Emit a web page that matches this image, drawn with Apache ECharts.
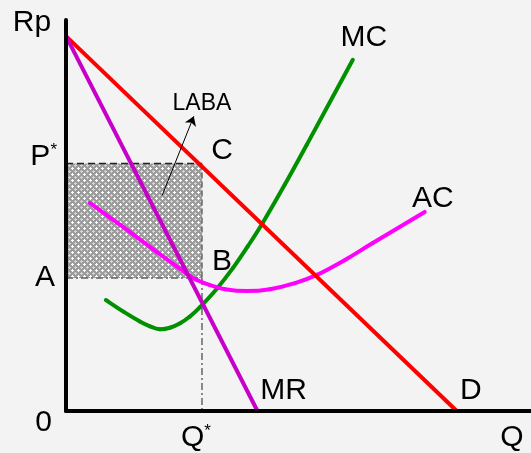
<!DOCTYPE html>
<html>
<head>
<meta charset="utf-8">
<script src="https://cdn.jsdelivr.net/npm/echarts@6/dist/echarts.min.js"></script>
<style>
html,body{margin:0;padding:0;background:#f3f3f3;}
#main{width:531px;height:453px;}
</style>
</head>
<body>
<div id="main"></div>
<script>
// axis extents (Q and Rp units)
var qMax = 11.9;
var pMax = 10.43;

// demand (D) and marginal revenue (MR)
var demandQ = [0, 10];
var demandP = [10, 0];
var mrQ = [0, 4.9];
var mrP = [10, 0];

// cost curves
var mcQ = [1.02, 1.47, 1.89, 2.15, 2.4, 2.66, 2.92, 3.17, 3.43, 3.86, 4.27, 4.65, 5.04, 5.6, 6.16, 7.34];
var mcP = [2.96, 2.65, 2.39, 2.26, 2.18, 2.22, 2.34, 2.52, 2.77, 3.26, 3.81, 4.39, 5.03, 6.04, 7.1, 9.37];
var acQ = [0.61, 1.46, 2.33, 2.92, 3.3, 3.68, 4.07, 4.63, 5.22, 5.86, 6.42, 7.14, 7.85, 9.18];
var acP = [5.55, 4.91, 4.24, 3.79, 3.52, 3.36, 3.25, 3.2, 3.25, 3.41, 3.63, 4.03, 4.48, 5.31];

// equilibrium
var qStar = 3.48;
var pStar = 6.6;
var aLevel = 3.55;

// tick labels
var yTickValues = [0, aLevel, pStar];
var yTickLabels = ['0', 'A', 'P*'];
var xTickValues = [qStar];
var xTickLabels = ['Q*'];

// LABA arrow (tail -> head) and its caption
var arrowQ = [2.46, 3.27];
var arrowP = [5.75, 7.86];
var labaQ = 3.48, labaP = 8.22;

function pairs(xs, ys) {
	var out = [];
	for (var i = 0; i < xs.length; i++) out.push([xs[i], ys[i]]);
	return out;
}

// crosshatch tile for the profit box
function hatch() {
	var c = document.createElement('canvas');
	c.width = 6; c.height = 6;
	var g = c.getContext('2d');
	g.fillStyle = '#9c9c9c';
	g.fillRect(0, 0, 6, 6);
	g.fillStyle = '#ffffff';
	g.fillRect(0, 0, 2, 1);
	g.fillRect(5, 0, 1, 1);
	g.fillRect(0, 1, 1, 1);
	g.fillRect(0, 5, 1, 1);
	g.fillStyle = '#d4d4d4';
	g.fillRect(2, 3, 3, 1);
	g.fillRect(3, 2, 1, 1);
	g.fillRect(3, 4, 1, 1);
	return c;
}

var FONT = 'Liberation Sans';
var big = { fontSize: 30, fontFamily: FONT, color: '#000' };

function tickRich(label) {
	if (label == 'P*') return '{p|P}{s|*}';
	if (label == 'A') return '{a|A}';
	if (label == 'Q*') return '{q|Q}{s|*}';
	return '{z|' + label + '}';
}
function pick(values, labels, v) {
	var best = 0;
	for (var i = 1; i < values.length; i++) {
		if (Math.abs(values[i] - v) < Math.abs(values[best] - v)) best = i;
	}
	return tickRich(labels[best]);
}

function note(text, coord, offset, size) {
	return {
		coord: coord,
		symbolSize: 0,
		label: {
			show: true, position: 'inside', formatter: text, offset: offset,
			fontSize: size || 30, fontFamily: FONT, color: '#000'
		}
	};
}

function guide(name, pts, color, dash) {
	return {
		name: name, type: 'line', data: pts, symbol: 'none', z: 1, silent: true,
		lineStyle: { color: color, width: 1.5, type: dash }
	};
}

// smooth cost curve: each data point draws the spline piece to the next one
function curve(name, qs, ps, color) {
	return {
		name: name, type: 'custom', z: 3, silent: true,
		data: pairs(qs, ps),
		encode: { x: 0, y: 1 },
		renderItem: function (params, api) {
			var i = params.dataIndex, n = qs.length;
			if (i >= n - 1) return { type: 'group', children: [] };
			var at = function (k) {
				k = Math.max(0, Math.min(n - 1, k));
				return api.coord([qs[k], ps[k]]);
			};
			var p0 = at(i - 1), p1 = at(i), p2 = at(i + 1), p3 = at(i + 2);
			var c1 = [p1[0] + (p2[0] - p0[0]) / 6, p1[1] + (p2[1] - p0[1]) / 6];
			var c2 = [p2[0] - (p3[0] - p1[0]) / 6, p2[1] - (p3[1] - p1[1]) / 6];
			return {
				type: 'path',
				shape: { pathData: 'M' + p1.join(' ') + ' C' + c1.join(' ') + ' ' + c2.join(' ') + ' ' + p2.join(' ') },
				style: { fill: 'none', stroke: color, lineWidth: 4, lineCap: 'round' }
			};
		}
	};
}

var myChart = echarts.init(document.getElementById('main'));
var option = {
	backgroundColor: '#f3f3f3',
	animation: false,
	grid: { left: 66, right: 0, top: 20, bottom: 42, containLabel: false, outerBoundsMode: 'none' },
	xAxis: {
		type: 'value', min: 0, max: qMax, z: 10,
		splitLine: { show: false },
		axisTick: { show: false },
		axisLine: { lineStyle: { color: '#000', width: 4 } },
		axisLabel: {
			customValues: xTickValues, margin: 12, padding: [0, 12, 0, 0],
			formatter: function (v) { return pick(xTickValues, xTickLabels, v); },
			rich: {
				q: big,
				s: { fontSize: 17, fontFamily: FONT, color: '#000', verticalAlign: 'top' }
			}
		}
	},
	yAxis: {
		type: 'value', min: 0, max: pMax, z: 10,
		splitLine: { show: false },
		axisTick: { show: false },
		axisLine: { lineStyle: { color: '#000', width: 4 } },
		name: 'Rp', nameLocation: 'end', nameGap: -18, nameMoveOverlap: false,
		nameTextStyle: { fontSize: 30, fontFamily: FONT, color: '#000', padding: [0, 68, 0, 0] },
		axisLabel: {
			customValues: yTickValues, margin: 9,
			formatter: function (v) { return pick(yTickValues, yTickLabels, v); },
			rich: {
				p: { fontSize: 30, fontFamily: FONT, color: '#000', padding: [0, 0, 14, 0] },
				s: { fontSize: 17, fontFamily: FONT, color: '#000', verticalAlign: 'top' },
				a: { fontSize: 30, fontFamily: FONT, color: '#000', padding: [0, 2, 0, 0] },
				z: { fontSize: 30, fontFamily: FONT, color: '#000', padding: [24, 5, 0, 0] }
			}
		}
	},
	series: [
		{
			name: 'top', type: 'line', symbol: 'none', z: 1, silent: true,
			data: [[0, pStar], [qStar, pStar]],
			lineStyle: { color: '#222', width: 1.5, type: [7, 4] },
			markArea: {
				silent: true,
				itemStyle: { color: { image: hatch(), repeat: 'repeat' }, borderWidth: 0 },
				data: [[{ coord: [0, pStar] }, { coord: [qStar, aLevel] }]]
			}
		},
		guide('right', [[qStar, pStar], [qStar, aLevel]], '#666', [6, 3]),
		guide('bottom', [[0, aLevel], [qStar, aLevel]], '#666', [7, 3, 2, 3]),
		guide('drop', [[qStar, aLevel], [qStar, 0]], '#666', [7, 3, 2, 3]),
		{
			name: 'D', type: 'line', symbol: 'none', z: 3,
			data: pairs(demandQ, demandP),
			lineStyle: { color: '#ff0000', width: 4 }
		},
		{
			name: 'MR', type: 'line', symbol: 'none', z: 3,
			data: pairs(mrQ, mrP),
			lineStyle: { color: '#c600c8', width: 4 }
		},
		curve('MC', mcQ, mcP, '#009000'),
		curve('AC', acQ, acP, '#ff00ff'),
		{
			name: 'notes', type: 'line', symbol: 'none', z: 4, silent: true,
			data: [],
			markLine: {
				silent: true, symbol: ['none', 'arrow'], symbolSize: 9,
				label: { show: false },
				lineStyle: { color: '#000', width: 1, type: 'solid' },
				data: [[{ coord: [arrowQ[0], arrowP[0]] }, { coord: [arrowQ[1], arrowP[1]] }]]
			},
			markPoint: {
				symbol: 'circle',
				data: [
					note('LABA', [labaQ, labaP], [0, 1], 23),
					note('D', [demandQ[1], demandP[1]], [14, -20]),
					note('C', [qStar, pStar], [20, -13]),
					note('Q', [qMax, 0], [-19, 27]),
					note('MR', [mrQ[1], mrP[1]], [26, -20]),
					note('MC', [mcQ[mcQ.length - 1], mcP[mcP.length - 1]], [11, -22]),
					note('AC', [acQ[acQ.length - 1], acP[acP.length - 1]], [8, -13]),
					note('B', [qStar, aLevel], [20, -16])
				]
			}
		}
	]
};
myChart.setOption(option);
</script>
</body>
</html>
